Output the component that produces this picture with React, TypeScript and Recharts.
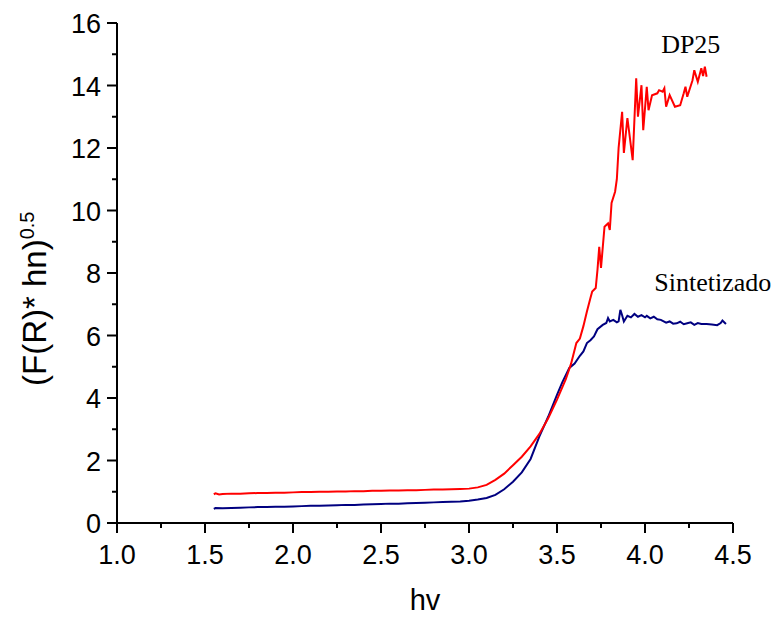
import { LineChart, Line, XAxis, YAxis, ReferenceDot, Label } from "recharts";

// DP25 curve (hv, value)
const dp25Hv = [
  1.55, 1.56, 1.58, 1.6, 1.65, 1.7, 1.75, 1.8, 1.85, 1.9, 1.95, 2.0, 2.05, 2.1, 2.15, 2.2, 2.25, 2.3,
  2.35, 2.4, 2.45, 2.5, 2.55, 2.6, 2.65, 2.7, 2.75, 2.8, 2.85, 2.9, 2.95, 3.0, 3.05, 3.1, 3.15, 3.2,
  3.25, 3.3, 3.35, 3.4, 3.45, 3.5, 3.55, 3.58, 3.61, 3.63, 3.65, 3.67, 3.69, 3.7, 3.72, 3.73, 3.74,
  3.75, 3.77, 3.79, 3.8, 3.81, 3.83, 3.84, 3.85, 3.87, 3.88, 3.9, 3.93, 3.95, 3.96, 3.98, 3.99, 4.01,
  4.02, 4.04, 4.07, 4.08, 4.1, 4.11, 4.12, 4.14, 4.17, 4.2, 4.22, 4.23, 4.24, 4.27, 4.28, 4.3, 4.32,
  4.33, 4.34, 4.35,
];
const dp25Val = [
  0.92, 0.95, 0.91, 0.93, 0.94, 0.94, 0.95, 0.96, 0.96, 0.97, 0.97, 0.98, 0.99, 0.99, 1.0, 1.0, 1.01,
  1.01, 1.02, 1.02, 1.03, 1.03, 1.04, 1.04, 1.05, 1.05, 1.06, 1.07, 1.07, 1.08, 1.09, 1.1, 1.14, 1.22,
  1.38, 1.58, 1.85, 2.12, 2.45, 2.85, 3.35, 3.95, 4.6, 5.1, 5.76, 5.9, 6.3, 6.77, 7.2, 7.41, 7.52, 8.1,
  8.84, 8.16, 9.48, 9.59, 9.38, 10.24, 10.6, 11.0, 12.0, 13.16, 11.84, 12.96, 11.61, 14.23, 13.0,
  14.01, 12.57, 13.96, 13.21, 13.69, 13.75, 13.85, 13.8, 13.91, 13.32, 13.69, 13.32, 13.37, 13.75,
  13.96, 13.64, 14.17, 14.49, 14.12, 14.55, 14.3, 14.6, 14.28,
];

// Sintetizado curve (hv, value)
const sintHv = [
  1.55, 1.56, 1.6, 1.65, 1.7, 1.75, 1.8, 1.85, 1.9, 1.95, 2.0, 2.05, 2.1, 2.15, 2.2, 2.25, 2.3, 2.35,
  2.4, 2.45, 2.5, 2.55, 2.6, 2.65, 2.7, 2.75, 2.8, 2.85, 2.9, 2.95, 3.0, 3.05, 3.1, 3.15, 3.2, 3.25,
  3.3, 3.35, 3.4, 3.45, 3.5, 3.53, 3.57, 3.6, 3.63, 3.65, 3.67, 3.69, 3.71, 3.73, 3.76, 3.78, 3.79,
  3.8, 3.82, 3.84, 3.85, 3.86, 3.87, 3.88, 3.9, 3.92, 3.94, 3.96, 3.98, 4.0, 4.01, 4.03, 4.05, 4.07,
  4.09, 4.12, 4.14, 4.16, 4.18, 4.2, 4.22, 4.24, 4.26, 4.28, 4.3, 4.32, 4.35, 4.38, 4.41, 4.43, 4.44,
  4.46,
];
const sintVal = [
  0.45, 0.48, 0.47, 0.48, 0.49, 0.5, 0.51, 0.51, 0.52, 0.52, 0.53, 0.54, 0.55, 0.55, 0.56, 0.57, 0.58,
  0.58, 0.59, 0.6, 0.61, 0.62, 0.62, 0.63, 0.64, 0.65, 0.66, 0.67, 0.68, 0.69, 0.71, 0.75, 0.8, 0.9,
  1.08, 1.32, 1.62, 2.05, 2.77, 3.4, 4.1, 4.5, 4.96, 5.1, 5.35, 5.49, 5.76, 5.85, 5.97, 6.2, 6.34, 6.4,
  6.56, 6.45, 6.5, 6.42, 6.45, 6.82, 6.65, 6.45, 6.63, 6.58, 6.69, 6.6, 6.65, 6.58, 6.63, 6.55, 6.6,
  6.52, 6.5, 6.41, 6.45, 6.38, 6.39, 6.44, 6.36, 6.39, 6.42, 6.34, 6.4, 6.37, 6.37, 6.35, 6.33, 6.4,
  6.48, 6.37,
];

const xTicks = [1, 1.25, 1.5, 1.75, 2, 2.25, 2.5, 2.75, 3, 3.25, 3.5, 3.75, 4, 4.25, 4.5];
const yTicks = [0, 1, 2, 3, 4, 5, 6, 7, 8, 9, 10, 11, 12, 13, 14, 15, 16];

const toPoints = (xs: number[], ys: number[]) => xs.map((hv, i) => ({ hv, v: ys[i] }));
const dp25Data = toPoints(dp25Hv, dp25Val);
const sintData = toPoints(sintHv, sintVal);

const SANS = "'Liberation Sans', Arial, sans-serif";
const SERIF = "'Liberation Serif', 'Times New Roman', serif";

const XTick = (props: any) => {
  const { x, y, payload } = props;
  const val = payload.value as number;
  const major = Math.abs(val * 2 - Math.round(val * 2)) < 1e-6;
  return (
    <g>
      <line x1={x} y1={y} x2={x} y2={y + (major ? 10 : 5)} stroke="#000" strokeWidth={2} />
      {major && (
        <text x={x} y={y + 41} textAnchor="middle" fontSize={27} fontFamily={SANS} fill="#000">
          {val.toFixed(1)}
        </text>
      )}
    </g>
  );
};

const YTick = (props: any) => {
  const { x, y, payload } = props;
  const val = payload.value as number;
  const major = val % 2 === 0;
  return (
    <g>
      <line x1={x} y1={y} x2={x - (major ? 10 : 5)} y2={y} stroke="#000" strokeWidth={2} />
      {major && (
        <text x={x - 16} y={y + 10} textAnchor="end" fontSize={27} fontFamily={SANS} fill="#000">
          {val}
        </text>
      )}
    </g>
  );
};

const YTitle = () => (
  <text transform="rotate(-90)" x={-386} y={46} fontSize={33} fontFamily={SANS} fill="#000">
    (F(R)* hn)
    <tspan dy={-12} fontSize={20}>
      0.5
    </tspan>
  </text>
);

const XTitle = () => (
  <text x={425} y={610} textAnchor="middle" fontSize={29} fontFamily={SANS} fill="#000">
    hv
  </text>
);

const Note = (props: any) => {
  const { viewBox, text } = props;
  return (
    <text
      x={viewBox.x}
      y={viewBox.y + 9}
      textAnchor="middle"
      fontSize={26}
      fontFamily={SERIF}
      fill="#000"
    >
      {text}
    </text>
  );
};

export default function App() {
  return (
    <div style={{ position: "absolute", left: 0, top: 0, width: 776, height: 617 }}>
      <LineChart width={776} height={617} margin={{ top: 23, right: 43, bottom: 0, left: 0 }}>
        <XAxis
          type="number"
          dataKey="hv"
          domain={[1, 4.5]}
          ticks={xTicks}
          interval={0}
          allowDataOverflow
          height={94}
          tickSize={0}
          tickMargin={0}
          tick={(p: any) => <XTick {...p} />}
          axisLine={{ stroke: "#000", strokeWidth: 2 }}
        >
          <Label content={() => <XTitle />} />
        </XAxis>
        <YAxis
          type="number"
          domain={[0, 16]}
          ticks={yTicks}
          interval={0}
          allowDataOverflow
          width={117}
          tickSize={0}
          tickMargin={0}
          tick={(p: any) => <YTick {...p} />}
          axisLine={{ stroke: "#000", strokeWidth: 2 }}
        >
          <Label content={() => <YTitle />} />
        </YAxis>
        <Line
          data={sintData}
          dataKey="v"
          type="linear"
          stroke="#000080"
          strokeWidth={2}
          dot={false}
          isAnimationActive={false}
        />
        <Line
          data={dp25Data}
          dataKey="v"
          type="linear"
          stroke="#ff0000"
          strokeWidth={2}
          dot={false}
          isAnimationActive={false}
        />
        <ReferenceDot x={4.26} y={15.32} r={0} fill="none" stroke="none" label={<Note text="DP25" />} />
        <ReferenceDot
          x={4.385}
          y={7.71}
          r={0}
          fill="none"
          stroke="none"
          label={<Note text="Sintetizado" />}
        />
      </LineChart>
    </div>
  );
}
